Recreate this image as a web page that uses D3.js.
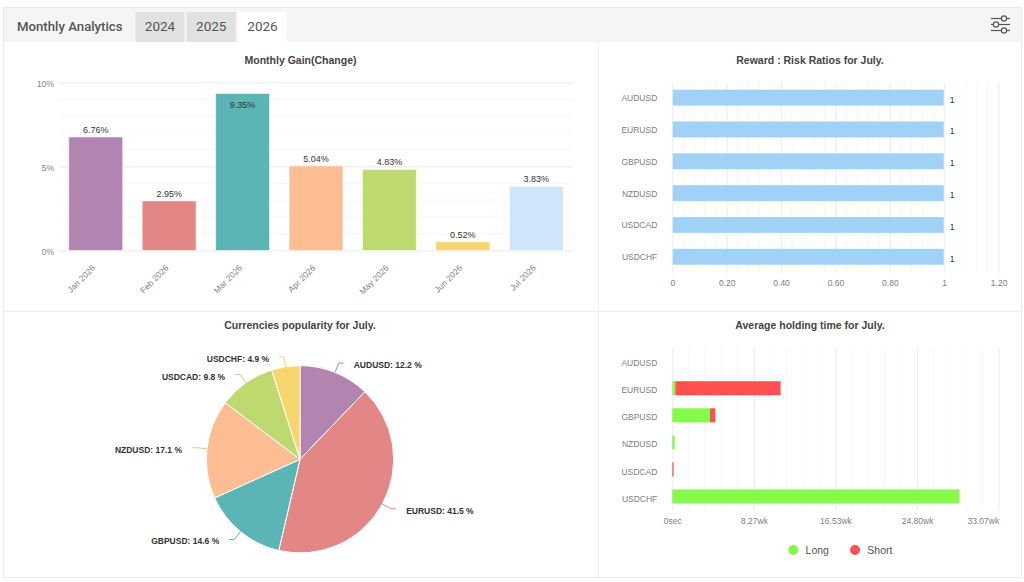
<!DOCTYPE html>
<html>
<head>
<meta charset="utf-8">
<script src="https://cdnjs.cloudflare.com/ajax/libs/d3/7.8.5/d3.min.js"></script>
<style>
html, body { margin: 0; padding: 0; background: #fff; }
svg { display: block; }
text { font-family: "Liberation Sans", Arial, sans-serif; }
.tick line { stroke: #eeeeee; }
.tick text { fill: #808080; font-size: 8.5px; font-family: "Liberation Sans", Arial, sans-serif; }
.domain { display: none; }
.title { font-size: 10.5px; font-weight: bold; fill: #444; text-anchor: middle; }
</style>
</head>
<body>
<svg id="chart" width="1024" height="582"></svg>
<script>
// monthly gain
var months = ['Jan 2026', 'Feb 2026', 'Mar 2026', 'Apr 2026', 'May 2026', 'Jun 2026', 'Jul 2026'];
var gains = [6.76, 2.95, 9.35, 5.04, 4.83, 0.52, 3.83];
var monthColors = ['#b484b1', '#e28686', '#5bb5b5', '#ffbd94', '#bed96e', '#f7d56f', '#cfe6fb'];
var gainTicks = [0, 5, 10];

// shared by the other three charts
var pairs = ['AUDUSD', 'EURUSD', 'GBPUSD', 'NZDUSD', 'USDCAD', 'USDCHF'];

// reward : risk
var ratios = [1, 1, 1, 1, 1, 1];
var ratioTicks = [0, 0.2, 0.4, 0.6, 0.8, 1, 1.2];

// popularity, in percent
var popularity = [12.2, 41.5, 14.6, 17.1, 9.8, 4.9];
var pieColors = ['#b484b1', '#e28686', '#5bb5b5', '#ffbd94', '#bed96e', '#f7d56f'];

// holding time, in weeks
var holdLong = [0, 0.3, 3.82, 0.24, 0, 29.1];
var holdShort = [0, 10.67, 0.54, 0, 0.13, 0];
var holdTicks = [0, 8.27, 16.53, 24.8, 33.07];
var holdTickLabels = ['0sec', '8.27wk', '16.53wk', '24.80wk', '33.07wk'];

var tabs = ['2024', '2025', '2026'];

var svg = d3.select('#chart');

// frame and header
svg.append('rect').attr('x', 3.5).attr('y', 7.5).attr('width', 1018).attr('height', 570)
    .attr('fill', '#fff').attr('stroke', '#eaeaea');
svg.append('rect').attr('x', 4).attr('y', 8).attr('width', 1017).attr('height', 34).attr('fill', '#f5f5f5');
svg.append('line').attr('x1', 598.5).attr('x2', 598.5).attr('y1', 42).attr('y2', 577).attr('stroke', '#eeeeee');
svg.append('line').attr('x1', 4).attr('x2', 1021).attr('y1', 311.5).attr('y2', 311.5).attr('stroke', '#eeeeee');

svg.append('text').attr('x', 17).attr('y', 31).text('Monthly Analytics')
    .style('font-family', 'Roboto').style('font-size', '13.2px').style('font-weight', 500).attr('fill', '#555');

var tabX = d3.scalePoint().domain(tabs).range([135.5, 238]);
var tab = svg.selectAll('.tab').data(tabs).enter().append('g').attr('class', 'tab');
tab.append('rect').attr('x', function(d){ return tabX(d); }).attr('y', 12).attr('width', 49).attr('height', 30)
    .attr('fill', function(d){ return d == '2026' ? '#fff' : '#e1e1e1'; });
tab.append('text').attr('x', function(d){ return tabX(d) + 24.5; }).attr('y', 31).attr('text-anchor', 'middle')
    .style('font-family', 'Roboto').style('font-size', '13.5px').attr('fill', '#555').text(function(d){ return d; });

// settings icon
var icon = svg.append('g').attr('fill', '#f5f5f5').attr('stroke', '#555').attr('stroke-width', 1.2);
[[18.5, 1004], [24.5, 996], [30.5, 1004]].forEach(function(p){
    icon.append('line').attr('x1', 991).attr('x2', 1010).attr('y1', p[0]).attr('y2', p[0]);
    icon.append('circle').attr('cx', p[1]).attr('cy', p[0]).attr('r', 2.6);
});

function title(x, y, txt){
    svg.append('text').attr('class', 'title').attr('x', x).attr('y', y).text(txt);
}

function minorTicks(scale, max, step){
    return d3.range(0, Math.round(max / step) + 1).map(function(i){ return scale(i * step); });
}

// ---- Monthly gain
title(300.5, 63.5, 'Monthly Gain(Change)');
var gx = d3.scaleBand().domain(months).range([59, 573]).paddingInner(0.265).paddingOuter(0.1325);
var gy = d3.scaleLinear().domain([0, 10]).range([250.5, 82.5]);

svg.append('g').selectAll('line').data(minorTicks(gy, 10, 1)).enter().append('line')
    .attr('x1', 59).attr('x2', 573).attr('y1', function(d){ return d; }).attr('y2', function(d){ return d; })
    .attr('stroke', '#f7f7f7');

var gyAxis = svg.append('g').attr('transform', 'translate(59,0)')
    .call(d3.axisLeft(gy).tickValues(gainTicks).tickSize(-514).tickPadding(5).tickFormat(function(d){ return d + '%'; }));
gyAxis.selectAll('text').attr('dy', '0.5em');

var gxAxis = svg.append('g').attr('transform', 'translate(0,250.5)')
    .call(d3.axisBottom(gx).tickSize(0).tickPadding(0));
gxAxis.selectAll('text').attr('text-anchor', 'end').attr('y', 0).attr('dy', 0)
    .attr('transform', 'translate(0,18) rotate(-45)');

svg.append('g').selectAll('rect').data(gains).enter().append('rect')
    .attr('x', function(d, i){ return gx(months[i]); })
    .attr('y', function(d){ return gy(d); })
    .attr('width', gx.bandwidth())
    .attr('height', function(d){ return gy(0) - gy(d); })
    .attr('fill', function(d, i){ return monthColors[i]; })
    .attr('stroke', '#fff').attr('stroke-opacity', 0.6);

svg.append('g').selectAll('text').data(gains).enter().append('text')
    .attr('x', function(d, i){ return gx(months[i]) + gx.bandwidth() / 2; })
    .attr('y', function(d){ return d > 9 ? gy(d) + 14.5 : gy(d) - 4; })
    .attr('text-anchor', 'middle').attr('fill', '#333').style('font-size', '9px')
    .text(function(d){ return d.toFixed(2) + '%'; });

// ---- Reward : risk
title(810, 63.5, 'Reward : Risk Ratios for July.');
var rx = d3.scaleLinear().domain([0, 1.2]).range([672.3, 998.6]);
var ry = d3.scaleBand().domain(pairs).range([81.7, 272.7]).paddingInner(0.5).paddingOuter(0.25);

svg.append('g').selectAll('line').data(minorTicks(rx, 1.2, 0.04)).enter().append('line')
    .attr('x1', function(d){ return d; }).attr('x2', function(d){ return d; })
    .attr('y1', 83).attr('y2', 273).attr('stroke', '#f7f7f7');

var rxAxis = svg.append('g').attr('transform', 'translate(0,273)')
    .call(d3.axisBottom(rx).tickValues(ratioTicks).tickSize(-190).tickPadding(7)
        .tickFormat(function(d){ return d == 0 || d == 1 ? d : d.toFixed(2); }));

var ryAxis = svg.append('g').attr('transform', 'translate(672.3,0)')
    .call(d3.axisLeft(ry).tickSize(0).tickPadding(15));
ryAxis.selectAll('text').attr('dy', '0.4em');

svg.append('g').selectAll('rect').data(ratios).enter().append('rect')
    .attr('x', rx(0) + 0.5)
    .attr('y', function(d, i){ return ry(pairs[i]); })
    .attr('width', function(d){ return rx(d) - rx(0) - 1; })
    .attr('height', ry.bandwidth())
    .attr('fill', '#a0d1f7');

svg.append('g').selectAll('text').data(ratios).enter().append('text')
    .attr('x', function(d){ return rx(d) + 5.5; })
    .attr('y', function(d, i){ return ry(pairs[i]) + ry.bandwidth() / 2 + 5; })
    .attr('fill', '#333').style('font-size', '8.5px')
    .text(function(d){ return d; });

// ---- Popularity pie
title(300, 329, 'Currencies popularity for July.');
var cx = 300, cy = 459.3, radius = 93.7;
var arcs = d3.pie().sort(null)(popularity);
var arc = d3.arc().innerRadius(0).outerRadius(radius);

var pie = svg.append('g').attr('transform', 'translate(' + cx + ',' + cy + ')');
pie.selectAll('path').data(arcs).enter().append('path')
    .attr('d', arc)
    .attr('fill', function(d, i){ return pieColors[i]; })
    .attr('stroke', '#fff').attr('stroke-width', 1);

arcs.forEach(function(d, i){
    var mid = (d.startAngle + d.endAngle) / 2;
    var sx = Math.sin(mid), sy = -Math.cos(mid);
    var side = sx >= 0 ? 1 : -1;
    var x1 = sx * (radius + 10), y1 = sy * (radius + 10);
    pie.append('path')
        .attr('d', d3.line()([[sx * radius, sy * radius], [x1, y1], [x1 + side * 5, y1]]))
        .attr('fill', 'none').attr('stroke', pieColors[i]);
    pie.append('text')
        .attr('x', x1 + side * 15).attr('y', y1 + 5)
        .attr('text-anchor', side > 0 ? 'start' : 'end')
        .attr('fill', '#333').style('font-size', '8.5px').style('font-weight', 'bold')
        .text(pairs[i] + ': ' + popularity[i] + ' %');
});

// ---- Holding time
title(810, 329, 'Average holding time for July.');
var hx = d3.scaleLinear().domain([0, 33.07]).range([672.3, 998.7]);
var hy = d3.scaleBand().domain(pairs).range([347.7, 510]).paddingInner(0.48).paddingOuter(0.24);

svg.append('g').selectAll('line').data(minorTicks(hx, 33.07, 33.07 / 20)).enter().append('line')
    .attr('x1', function(d){ return d; }).attr('x2', function(d){ return d; })
    .attr('y1', 348).attr('y2', 510).attr('stroke', '#f7f7f7');

var hxAxis = svg.append('g').attr('transform', 'translate(0,510)')
    .call(d3.axisBottom(hx).tickValues(holdTicks).tickSize(-162).tickPadding(8)
        .tickFormat(function(d, i){ return holdTickLabels[i]; }));
hxAxis.selectAll('text').filter(function(d){ return d == 33.07; }).attr('text-anchor', 'end');

var hyAxis = svg.append('g').attr('transform', 'translate(672.3,0)')
    .call(d3.axisLeft(hy).tickSize(0).tickPadding(15));
hyAxis.selectAll('text').attr('dy', '0.6em');

var holdBars = svg.append('g');
holdBars.selectAll('.long').data(holdLong).enter().append('rect').attr('class', 'long')
    .attr('x', hx(0))
    .attr('y', function(d, i){ return hy(pairs[i]); })
    .attr('width', function(d){ return hx(d) - hx(0); })
    .attr('height', hy.bandwidth())
    .attr('fill', '#85fa4d');
holdBars.selectAll('.short').data(holdShort).enter().append('rect').attr('class', 'short')
    .attr('x', function(d, i){ return hx(holdLong[i]); })
    .attr('y', function(d, i){ return hy(pairs[i]); })
    .attr('width', function(d){ return hx(d) - hx(0); })
    .attr('height', hy.bandwidth())
    .attr('fill', '#ff5050');

// legend
var legend = svg.append('g');
[['Long', '#85fa4d', 793.3], ['Short', '#ff5050', 855]].forEach(function(l){
    legend.append('circle').attr('cx', l[2]).attr('cy', 550).attr('r', 5).attr('fill', l[1]);
    legend.append('text').attr('x', l[2] + 12.3).attr('y', 553.5)
        .attr('fill', '#555').style('font-size', '10.5px').text(l[0]);
});
</script>
</body>
</html>
